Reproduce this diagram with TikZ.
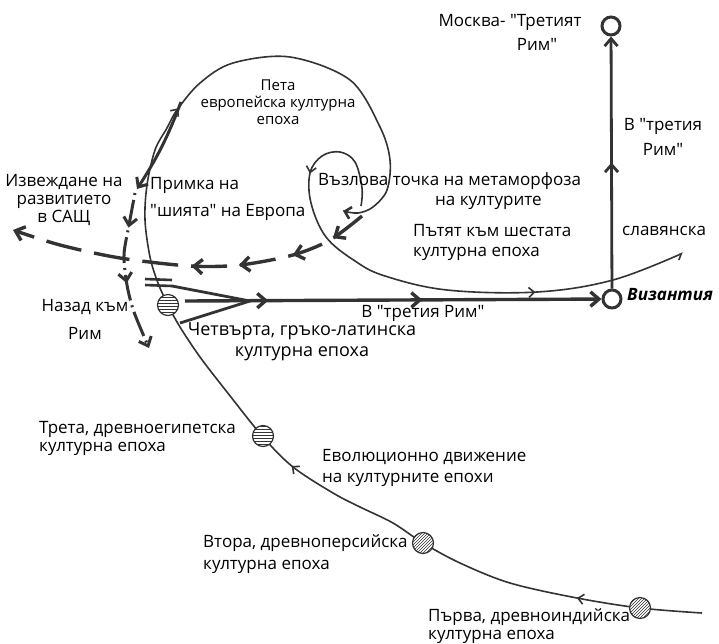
\documentclass[tikz,border=0pt]{standalone}
\usepackage{fontspec}
\setmainfont{Open Sans}[Ligatures=TeXOff]
\usepackage{tikz}
\usetikzlibrary{arrows,arrows.meta,decorations.markings,patterns,positioning}
\definecolor{ink}{rgb}{0.2,0.2,0.2}
\tikzset{
  thin line/.style={draw=ink, line width=1.6pt},
  thick line/.style={draw=ink, line width=3.4pt},
  lbl/.style={font=\fontsize{17}{20}\selectfont, inner sep=0pt, text=black},
  ring/.style={circle, draw=ink, line width=3pt, fill=white, minimum size=18pt, inner sep=0pt},
  disc/.style={circle, draw=ink, line width=1.2pt, minimum size=21pt, inner sep=0pt, preaction={fill=white}, pattern color=ink},
}

\begin{document}
\begin{tikzpicture}[x=1pt,y=-1pt,>={Straight Barb[length=3pt 1.6,width=6pt 2.5]}]
\useasboundingbox (0,0) rectangle (719,643);

% the spiral of the epochs
\draw[thin line, -{Straight Barb[length=6pt,width=12pt,line width=2.6pt]},
  postaction={decorate}, decoration={markings,
    mark=at position 0.103 with {\arrow{>}},
    mark=at position 0.362 with {\arrow{>}},
    mark=at position 0.698 with {\arrow{>}}}]
  plot[smooth, tension=0.55] coordinates {(702,613) (640,608) (577,598) (510,583)
    (460,563) (423,543) (393,523) (360,507) (333,493) (293,467) (263,437)
    (227,392) (200,357) (180,327) (168,305) (158,283) (150,257) (145,220)
    (147,185) (155,150) (167,128) (177,110) (200,83) (233,63) (290,57)
    (350,80) (380,127) (390,160) (387,190) (373,207) (358,213) (343,211)};

% small loop and the way out
\draw[thin line, -{Straight Barb[harpoon,swap]},
  postaction={decorate}, decoration={markings,
    mark=at position 0.19 with {\arrow{>}},
    mark=at position 0.72 with {\arrow{>}}}]
  plot[smooth, tension=0.6] coordinates {(361,206) (362,188) (355,162) (340,152)
    (322,156) (310,173) (311,203) (326,237) (355,261) (385,276) (447,290)
    (537,292) (613,280) (683,253)};

% epochs
\node[disc, pattern=north east lines] (d1) at (640,608) {};
\node[disc, pattern=north east lines] (d2) at (423,543) {};
\node[disc, pattern=horizontal lines] (d3) at (263,436) {};
\node[disc, pattern=horizontal lines] (d4) at (168,305) {};

\node[ring] (viz) at (612,299) {};
\node[ring] (msk) at (611,26) {};

% Byzantium -> Moscow
\draw[thick line, line width=2.8pt, ->,
  postaction={decorate}, decoration={markings,
    mark=at position 0.5 with {\arrow{>}}}]
  (viz) -- (msk);

% towards Byzantium
\coordinate (bar0) at (145,279);
\coordinate (bar1) at (172,280);
\coordinate (bar2) at (145,285);
\coordinate (bar3) at (172,286);
\coordinate (low) at (180,323);
\coordinate (fun) at (250,301);
\coordinate (h0) at (185,301);
\draw[thick line, line width=2.6pt] (bar0) -- (bar1) (bar2) -- (bar3);
\draw[thick line, line width=2.8pt] (bar3) -- (fun) -- (low);
\draw[thick line, ->,
  postaction={decorate}, decoration={markings,
    mark=at position 0.2 with {\arrow{>}},
    mark=at position 0.57 with {\arrow{>}}}]
  (h0) -- (viz);

% the noose
\coordinate (pr0) at (181,102);
\coordinate (pr1) at (137,189);
\draw[thick line, line width=3pt, ->] (pr0) to[bend left=6] (pr1);
\draw[thick line, line width=3pt, dash pattern=on 2pt off 5pt on 26pt off 5pt, ->,
  postaction={decorate}, decoration={markings,
    mark=at position 0.22 with {\arrow{>}},
    mark=at position 0.57 with {\arrow{>}}}]
  plot[smooth] coordinates {(135,193) (129,225) (124,255) (127,285) (134,312) (149,348)};

% out to the USA
\draw[thick line, dash pattern=on 36pt off 13pt, ->,
  postaction={decorate}, decoration={markings,
    mark=at position 0.1 with {\arrow{>}},
    mark=at position 0.22 with {\arrow{>}},
    mark=at position 0.37 with {\arrow{>}},
    mark=at position 0.5 with {\arrow{>}}}]
  plot[smooth] coordinates {(362,216) (330,240) (293,255) (240,265) (190,266)
    (120,258) (60,245) (13,230)};

% labels
\node[lbl] (mskA) at (510,22) {Москва- "Третият};
\node[lbl] (mskB) at (537,44) {Рим"};
\node[lbl, align=center, font=\fontsize{17}{25}\selectfont] (vrim) at (663,137) {В "третия\\Рим"};
\node[lbl, align=center, font=\fontsize{15}{17}\selectfont] (peta) at (278,102) {Пета\\европейска културна\\епоха};
\node[lbl, align=left, anchor=west] (vazl) at (318,191) {Възлова точка на метаморфоза\\\hspace*{117pt}на културите};
\node[lbl, anchor=west] (put1) at (413,231) {Пътят към шестата};
\node[lbl, anchor=west] (put2) at (622,231) {славянска};
\node[lbl, anchor=west] (put3) at (413,254) {културна епоха};
\node[lbl, align=center, font=\fontsize{17}{18}\selectfont] (usa) at (64,200) {Извеждане на\\развитието\\в САЩ};
\node[lbl, align=left, anchor=west, font=\fontsize{17}{27}\selectfont] (prm) at (150,199) {Примка на\\"шията" на Европа};
\node[lbl, align=center, font=\fontsize{17}{28}\selectfont] (nazad) at (85,319) {Назад към\\Рим};
\node[lbl] (vtr) at (423,313) {В "третия Рим"};
\node[lbl, align=center, font=\fontsize{18}{21}\selectfont] (chet) at (302,342) {Четвърта, гръко-латинска\\културна епоха};
\node[lbl, align=left, anchor=west, font=\fontsize{17}{18}\selectfont] (treta) at (39,438) {Трета, древноегипетска\\ културна епоха};
\node[lbl, align=left, anchor=west, font=\fontsize{17}{21}\selectfont] (evol) at (322,468) {Еволюционно движение\\на културните епохи};
\node[lbl, align=left, anchor=west, font=\fontsize{17}{22}\selectfont] (vtora) at (203,554) {Втора, древноперсийска\\културна епоха};
\node[lbl, align=left, anchor=west, font=\fontsize{17}{18}\selectfont] (parva) at (428,626) {Първа, древноиндийска\\културна епоха};
\node[lbl, anchor=west, font=\fontsize{17}{20}\selectfont\bfseries\itshape] (vizl) at (627,295) {Византия};

\end{tikzpicture}
\end{document}
